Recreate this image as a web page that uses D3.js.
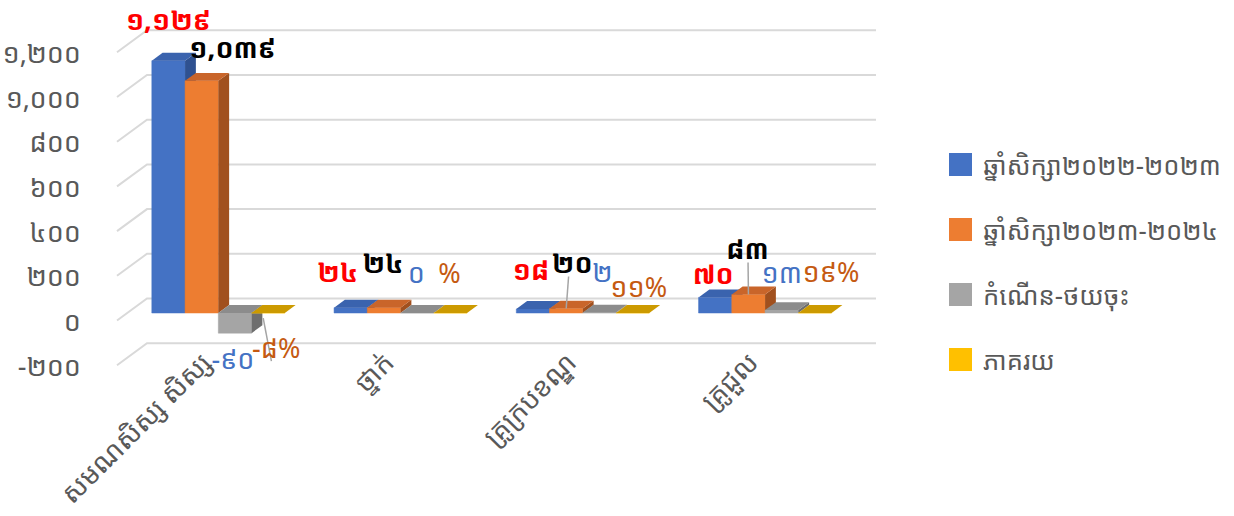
<!DOCTYPE html>
<html>
<head>
<meta charset="utf-8">
<script src="https://cdn.jsdelivr.net/npm/d3@7"></script>
<style>
  body { margin: 0; background: #fff; }
  svg { font-family: "Noto Sans Khmer", "Khmer OS", "Noto Sans", sans-serif; }
</style>
</head>
<body>
<div id="chart"></div>
<script>
// data
const categories = ["សមណសិស្ស សិស្ស", "ថ្នាក់", "គ្រូក្របខណ្ឌ", "គ្រូជួល"];
const seriesNames = ["ឆ្នាំសិក្សា២០២២-២០២៣", "ឆ្នាំសិក្សា២០២៣-២០២៤", "កំណើន-ថយចុះ", "ភាគរយ"];
const year2223 = [1129, 24, 18, 70];
const year2324 = [1039, 24, 20, 83];
const growth = [-90, 0, 2, 13];
const percent = [-0.08, 0, 0.11, 0.19];
const yTicks = [-200, 0, 200, 400, 600, 800, 1000, 1200];

const series = [year2223, year2324, growth, percent];

const colors = [
  {front: "#4472C4", top: "#3A63AE", side: "#2F5190"},
  {front: "#ED7D31", top: "#C9652A", side: "#A1501E"},
  {front: "#A5A5A5", top: "#8C8C8C", side: "#6E6E6E"},
  {front: "#FFC000", top: "#CC9A00", side: "#A57C00"}
];
const labelColors = ["#FF0000", "#000000", "#4472C4", "#C55A11"];
const labelWeights = ["bold", "bold", "normal", "normal"];

// manual label nudges (dx, dy from bar top centre), per category then series
const labelNudge = [
  [[0, -41], [31, -33], [-2, 45], [8, 34]],
  [[-13, -36], [-1, -45], [-1, -41], [-1, -41]],
  [[-2, -39], [6, -46], [3, -41], [6, -26]],
  [[-2, -24], [-1, -46], [0, -38], [16, -41]]
];
const leaders = [[0, 3], [2, 1], [3, 1]];

const khmerDigits = "០១២៣៤៥៦៧៨៩";
const toKhmer = s => String(s).replace(/[0-9]/g, d => khmerDigits[+d]);
const fmtNum = v => toKhmer(d3.format(",")(v));
const fmtPct = v => v === 0 ? "%" : toKhmer(Math.round(v * 100) + "%");

const width = 1234, height = 516;
const depthX = 30, depthY = 22;
const barZ0 = 0.34, barZ1 = 0.70;

const svg = d3.select("#chart").append("svg")
  .attr("width", width).attr("height", height);

const x = d3.scaleBand().domain(categories).range([117, 846]);
const xs = d3.scaleBand().domain(d3.range(4)).range([0, x.bandwidth()]).paddingOuter(0.74);
const y = d3.scaleLinear().domain([-200, 1200]).range([365.2, 52.3]);

const P = (px, v, z) => [px + z * depthX, y(v) - z * depthY];

// gridlines: side wall diagonal + back wall
const grid = svg.append("g").attr("stroke", "#D9D9D9").attr("stroke-width", 2).attr("fill", "none");
grid.selectAll("path").data(yTicks).join("path")
  .attr("d", t => d3.line()([P(117, t, 0), P(117, t, 1), P(846, t, 1)]));

// y-axis labels
svg.append("g").selectAll("text").data(yTicks).join("text")
  .attr("x", 81).attr("y", t => y(t))
  .attr("text-anchor", "end").attr("dominant-baseline", "central")
  .attr("fill", "#595959").attr("font-size", 27)
  .text(t => fmtNum(t));

// bars
const bars = svg.append("g");
categories.forEach((c, ci) => {
  series.forEach((s, si) => {
    const v = s[ci];
    const x0 = x(c) + xs(si), x1 = x0 + xs.bandwidth();
    const hi = Math.max(0, v), lo = Math.min(0, v);
    const col = colors[si];
    const poly = pts => pts.map(p => p.join(",")).join(" ");
    // front
    bars.append("polygon").attr("fill", col.front).attr("stroke", col.front).attr("stroke-width", 0.5)
      .attr("points", poly([P(x0, lo, barZ0), P(x1, lo, barZ0), P(x1, hi, barZ0), P(x0, hi, barZ0)]));
    // right side
    bars.append("polygon").attr("fill", col.side)
      .attr("points", poly([P(x1, lo, barZ0), P(x1, lo, barZ1), P(x1, hi, barZ1), P(x1, hi, barZ0)]));
    // top
    bars.append("polygon").attr("fill", col.top)
      .attr("points", poly([P(x0, hi, barZ0), P(x1, hi, barZ0), P(x1, hi, barZ1), P(x0, hi, barZ1)]));
  });
});

// data labels
const labels = svg.append("g");
categories.forEach((c, ci) => {
  series.forEach((s, si) => {
    const v = s[ci];
    const cx = x(c) + xs(si) + xs.bandwidth() / 2;
    const top = P(cx, Math.max(0, v), barZ0);
    const [dx, dy] = labelNudge[ci][si];
    const isLeader = leaders.some(l => l[0] === ci && l[1] === si);
    if (isLeader) {
      labels.append("line")
        .attr("x1", top[0] - (si === 3 ? 5 : 0)).attr("y1", top[1] + (si === 3 ? 5 : 0))
        .attr("x2", top[0] + dx * 0.4).attr("y2", top[1] + dy + 14)
        .attr("stroke", "#A5A5A5").attr("stroke-width", 1.5);
    }
    labels.append("text")
      .attr("x", top[0] + dx).attr("y", top[1] + dy)
      .attr("text-anchor", "middle").attr("dominant-baseline", "central")
      .attr("fill", labelColors[si]).attr("font-weight", labelWeights[si])
      .attr("font-size", 27)
      .text(si === 3 ? fmtPct(v) : fmtNum(v));
  });
});

// category labels
svg.append("g").selectAll("text").data(categories).join("text")
  .attr("transform", c => `translate(${x(c) + x.bandwidth() / 2 - 12},${y(-200) - 18}) rotate(-45)`)
  .attr("text-anchor", "end").attr("dy", "0.9em")
  .attr("fill", "#595959").attr("font-size", 27)
  .text(c => c);

// legend
const legend = svg.append("g").attr("transform", "translate(949,153)");
const li = legend.selectAll("g").data(seriesNames).join("g")
  .attr("transform", (d, i) => `translate(0,${i * 65})`);
li.append("rect").attr("width", 23).attr("height", 23).attr("fill", (d, i) => colors[i].front);
const lt = li.append("text").attr("x", 34).attr("y", 12).attr("dominant-baseline", "central")
  .attr("fill", "#595959").attr("font-size", 29).text(d => d);
// shrink legend font so the longest entry ends where the reference's does
const longest = d3.max(lt.nodes(), n => n.getComputedTextLength());
if (longest > 238) lt.attr("font-size", 29 * 238 / longest);
</script>
</body>
</html>
